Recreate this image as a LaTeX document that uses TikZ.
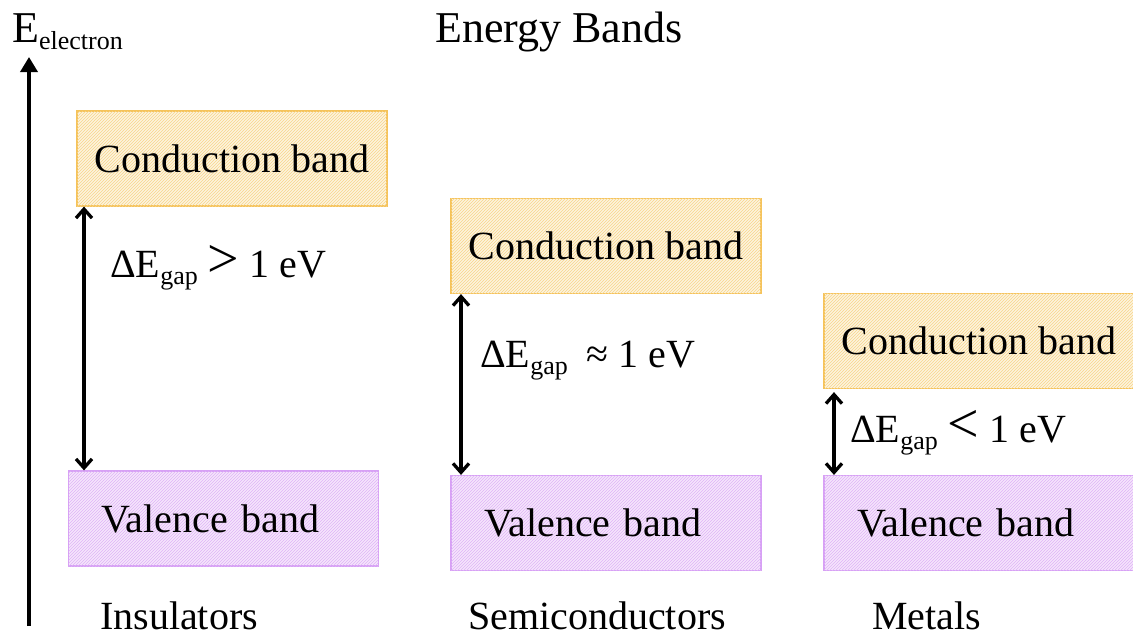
\documentclass[tikz,border=0pt]{standalone}
\usepackage{fontspec}
\setmainfont{Liberation Serif}
\usetikzlibrary{arrows.meta, patterns, positioning}
\definecolor{condedge}{RGB}{245,195,90}
\definecolor{condfill}{RGB}{253,244,222}
\definecolor{valedge}{RGB}{215,160,245}
\definecolor{valfill}{RGB}{245,230,252}
\newcommand{\lowtext}[1]{\raisebox{-7pt}{\fontsize{26}{26}\selectfont #1}}
\newcommand{\bigrel}[1]{{\fontsize{56}{56}\selectfont #1}}
\tikzset{
  band/.style={minimum width=310pt, minimum height=95pt, line width=1.2pt,
    inner sep=0pt, font=\fontsize{40}{48}\selectfont},
  condband/.style={band, draw=condedge, fill=condfill,
    postaction={pattern=north east lines, pattern color=condedge!70}},
  valband/.style={band, draw=valedge, fill=valfill,
    postaction={pattern=north east lines, pattern color=valedge!80},
    text width=244pt, align=left},
  gaparrow/.style={{Straight Barb[length=9pt,width=16pt]}-{Straight Barb[length=9pt,width=16pt]},
    line width=3.3pt},
  gaplabel/.style={anchor=base west, inner sep=0pt, font=\fontsize{40}{48}\selectfont},
  kindlabel/.style={anchor=base west, inner sep=0pt, font=\fontsize{40}{48}\selectfont}
}

\begin{document}
\begin{tikzpicture}[x=1pt, y=-1pt]
  \useasboundingbox (0,0) rectangle (1133,635);
  % energy axis
  \coordinate (axbot) at (29,626);
  \coordinate (axtop) at (29,57);
  \draw[-{Triangle[length=15pt,width=17pt]}, line width=3.5pt] (axbot) -- (axtop);
  \node[anchor=base west, inner sep=0pt, font=\fontsize{44}{48}\selectfont] (elabel) at (12,42)
    {E\lowtext{electron}};
  \node[anchor=base, inner sep=0pt, font=\fontsize{44}{48}\selectfont] (title) at (559,42) {Energy Bands};

  % insulators
  \node[condband] (insC) at (232,158.5) {Conduction band};
  \node[valband] (insV) at (223.5,518.5) {Valence band};
  \coordinate (insx) at (84,0);
  \draw[gaparrow] (insC.south -| insx) -- (insV.north -| insx);
  \node[gaplabel] (insgap) at (110,277) {ΔE\lowtext{gap} \bigrel{>} 1 eV};
  \node[kindlabel] (ins) at (100,629) {Insulators};

  % semiconductors
  \node[condband] (semC) at (606,246) {Conduction band};
  \node[valband] (semV) at (606,523) {Valence band};
  \coordinate (semx) at (461,0);
  \draw[gaparrow] (semC.south -| semx) -- (semV.north -| semx);
  \node[gaplabel] (semgap) at (480,367) {ΔE\lowtext{gap}\hspace{19pt}≈ 1 eV};
  \node[kindlabel] (sem) at (468,629) {Semiconductors};

  % metals
  \node[condband] (metC) at (979,341) {Conduction band};
  \node[valband] (metV) at (979,523) {Valence band};
  \coordinate (metx) at (834,0);
  \draw[gaparrow] ([yshift=-3pt]metC.south -| metx) -- (metV.north -| metx);
  \node[gaplabel] (metgap) at (850,442) {ΔE\lowtext{gap} \bigrel{<} 1 eV};
  \node[kindlabel] (met) at (872,629) {Metals};
\end{tikzpicture}
\end{document}
